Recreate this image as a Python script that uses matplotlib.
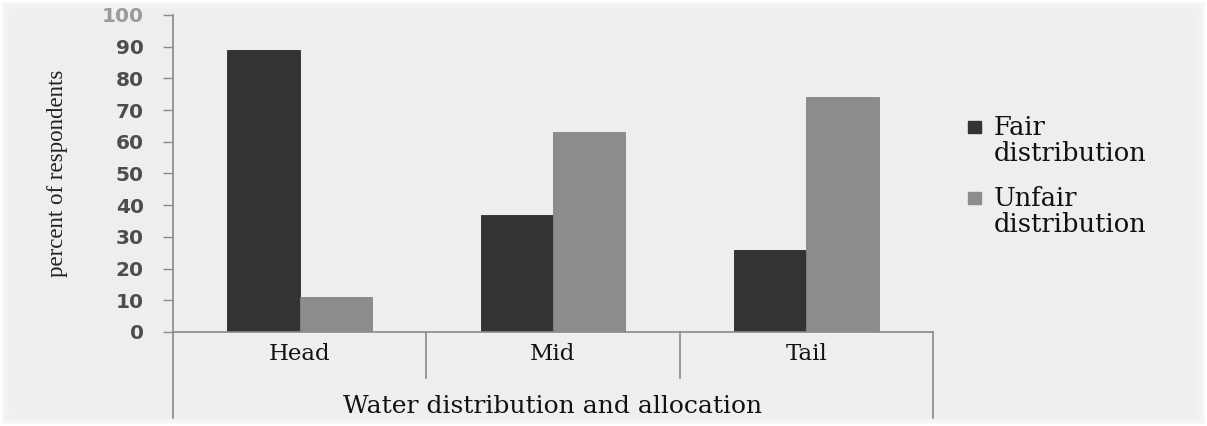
import numpy as np
import matplotlib
matplotlib.use("Agg")
import matplotlib.pyplot as plt
from matplotlib.patches import Rectangle

# --- datos ---
categories = ["Head", "Mid", "Tail"]
fair = [89, 37, 26]
unfair = [11, 63, 74]
series_names = ["Fair\ndistribution", "Unfair\ndistribution"]
y_ticks = list(range(0, 101, 10))

BG = "#eeeeee"
AXIS_GREY = "#8a8a8a"
FAIR_COL = "#333333"
UNFAIR_COL = "#8c8c8c"
SERIF = "DejaVu Serif"
W_PX, H_PX = 1207, 426

fig = plt.figure(figsize=(W_PX / 100, H_PX / 100), dpi=100, facecolor=BG)

# fondo gris con borde blanco difuminado
bg_ax = fig.add_axes([0, 0, 1, 1], zorder=-10)
yy, xx = np.mgrid[0:H_PX, 0:W_PX]
edge = np.minimum.reduce([xx, yy, W_PX - 1 - xx, H_PX - 1 - yy]).astype(float)
shade = 0.933 + (1.0 - 0.933) * np.exp(-edge / 4.0)
bg_ax.imshow(shade, cmap="gray", vmin=0, vmax=1, aspect="auto", interpolation="bilinear")
bg_ax.axis("off")

ax = fig.add_axes([0.1433, 0.2207, 0.6297, 0.7441])
ax.set_facecolor("none")

x = np.arange(len(categories))
w = 0.285
ax.bar(x - w / 2, fair, width=w, color=FAIR_COL, edgecolor="#2a2a2a", linewidth=0.6)
ax.bar(x + w / 2, unfair, width=w, color=UNFAIR_COL, edgecolor="#858585", linewidth=0.6)

ax.set_xlim(-0.5, 2.5)
ax.set_ylim(0, 100)
ax.set_yticks(y_ticks)
ax.set_yticklabels([str(t) for t in y_ticks], fontsize=14.5, fontweight="bold",
                   color="#4d4d4d", family="DejaVu Sans")
ax.tick_params(axis="y", direction="out", length=7, width=1, color=AXIS_GREY, pad=14)
ax.get_yticklabels()[-1].set_color("#9a9a9a")
ax.set_xticks([])

for s in ["top", "right"]:
    ax.spines[s].set_visible(False)
for s in ["left", "bottom"]:
    ax.spines[s].set_color(AXIS_GREY)
    ax.spines[s].set_linewidth(1.2)

# cajas de categorías bajo el eje x
trans = ax.get_xaxis_transform()
for xs in [0.5, 1.5]:
    ax.plot([xs, xs], [0, -0.145], transform=trans, color=AXIS_GREY, lw=1.2, clip_on=False)
for xs in [-0.5, 2.5]:
    ax.plot([xs, xs], [0, -0.27], transform=trans, color=AXIS_GREY, lw=1.2, clip_on=False)

for xi, name in zip(x, categories):
    ax.text(xi, -0.07, name, transform=trans, ha="center", va="center",
            fontsize=16.5, family=SERIF, color="#111111")
ax.text(1.0, -0.235, "Water distribution and allocation", transform=trans,
        ha="center", va="center", fontsize=18, family=SERIF, color="#111111")

ax.set_ylabel("percent of respondents", fontsize=16.5, family="Liberation Serif",
              color="#222222", labelpad=24)

# leyenda: cuadrado alineado con la primera línea de cada etiqueta
leg_rows = [(1 - 127 / H_PX, FAIR_COL), (1 - 198 / H_PX, UNFAIR_COL)]
for (ty, col), label in zip(leg_rows, series_names):
    fig.patches.append(Rectangle((968 / W_PX, ty - 6 / H_PX), 13 / W_PX, 12 / H_PX,
                                 transform=fig.transFigure, facecolor=col,
                                 edgecolor=col, figure=fig))
    fig.text(994 / W_PX, ty + 12 / H_PX, label, ha="left", va="top",
             fontsize=18.5, family=SERIF, color="#111111", linespacing=1.05)

plt.savefig("out.png", dpi=100, facecolor=BG)
